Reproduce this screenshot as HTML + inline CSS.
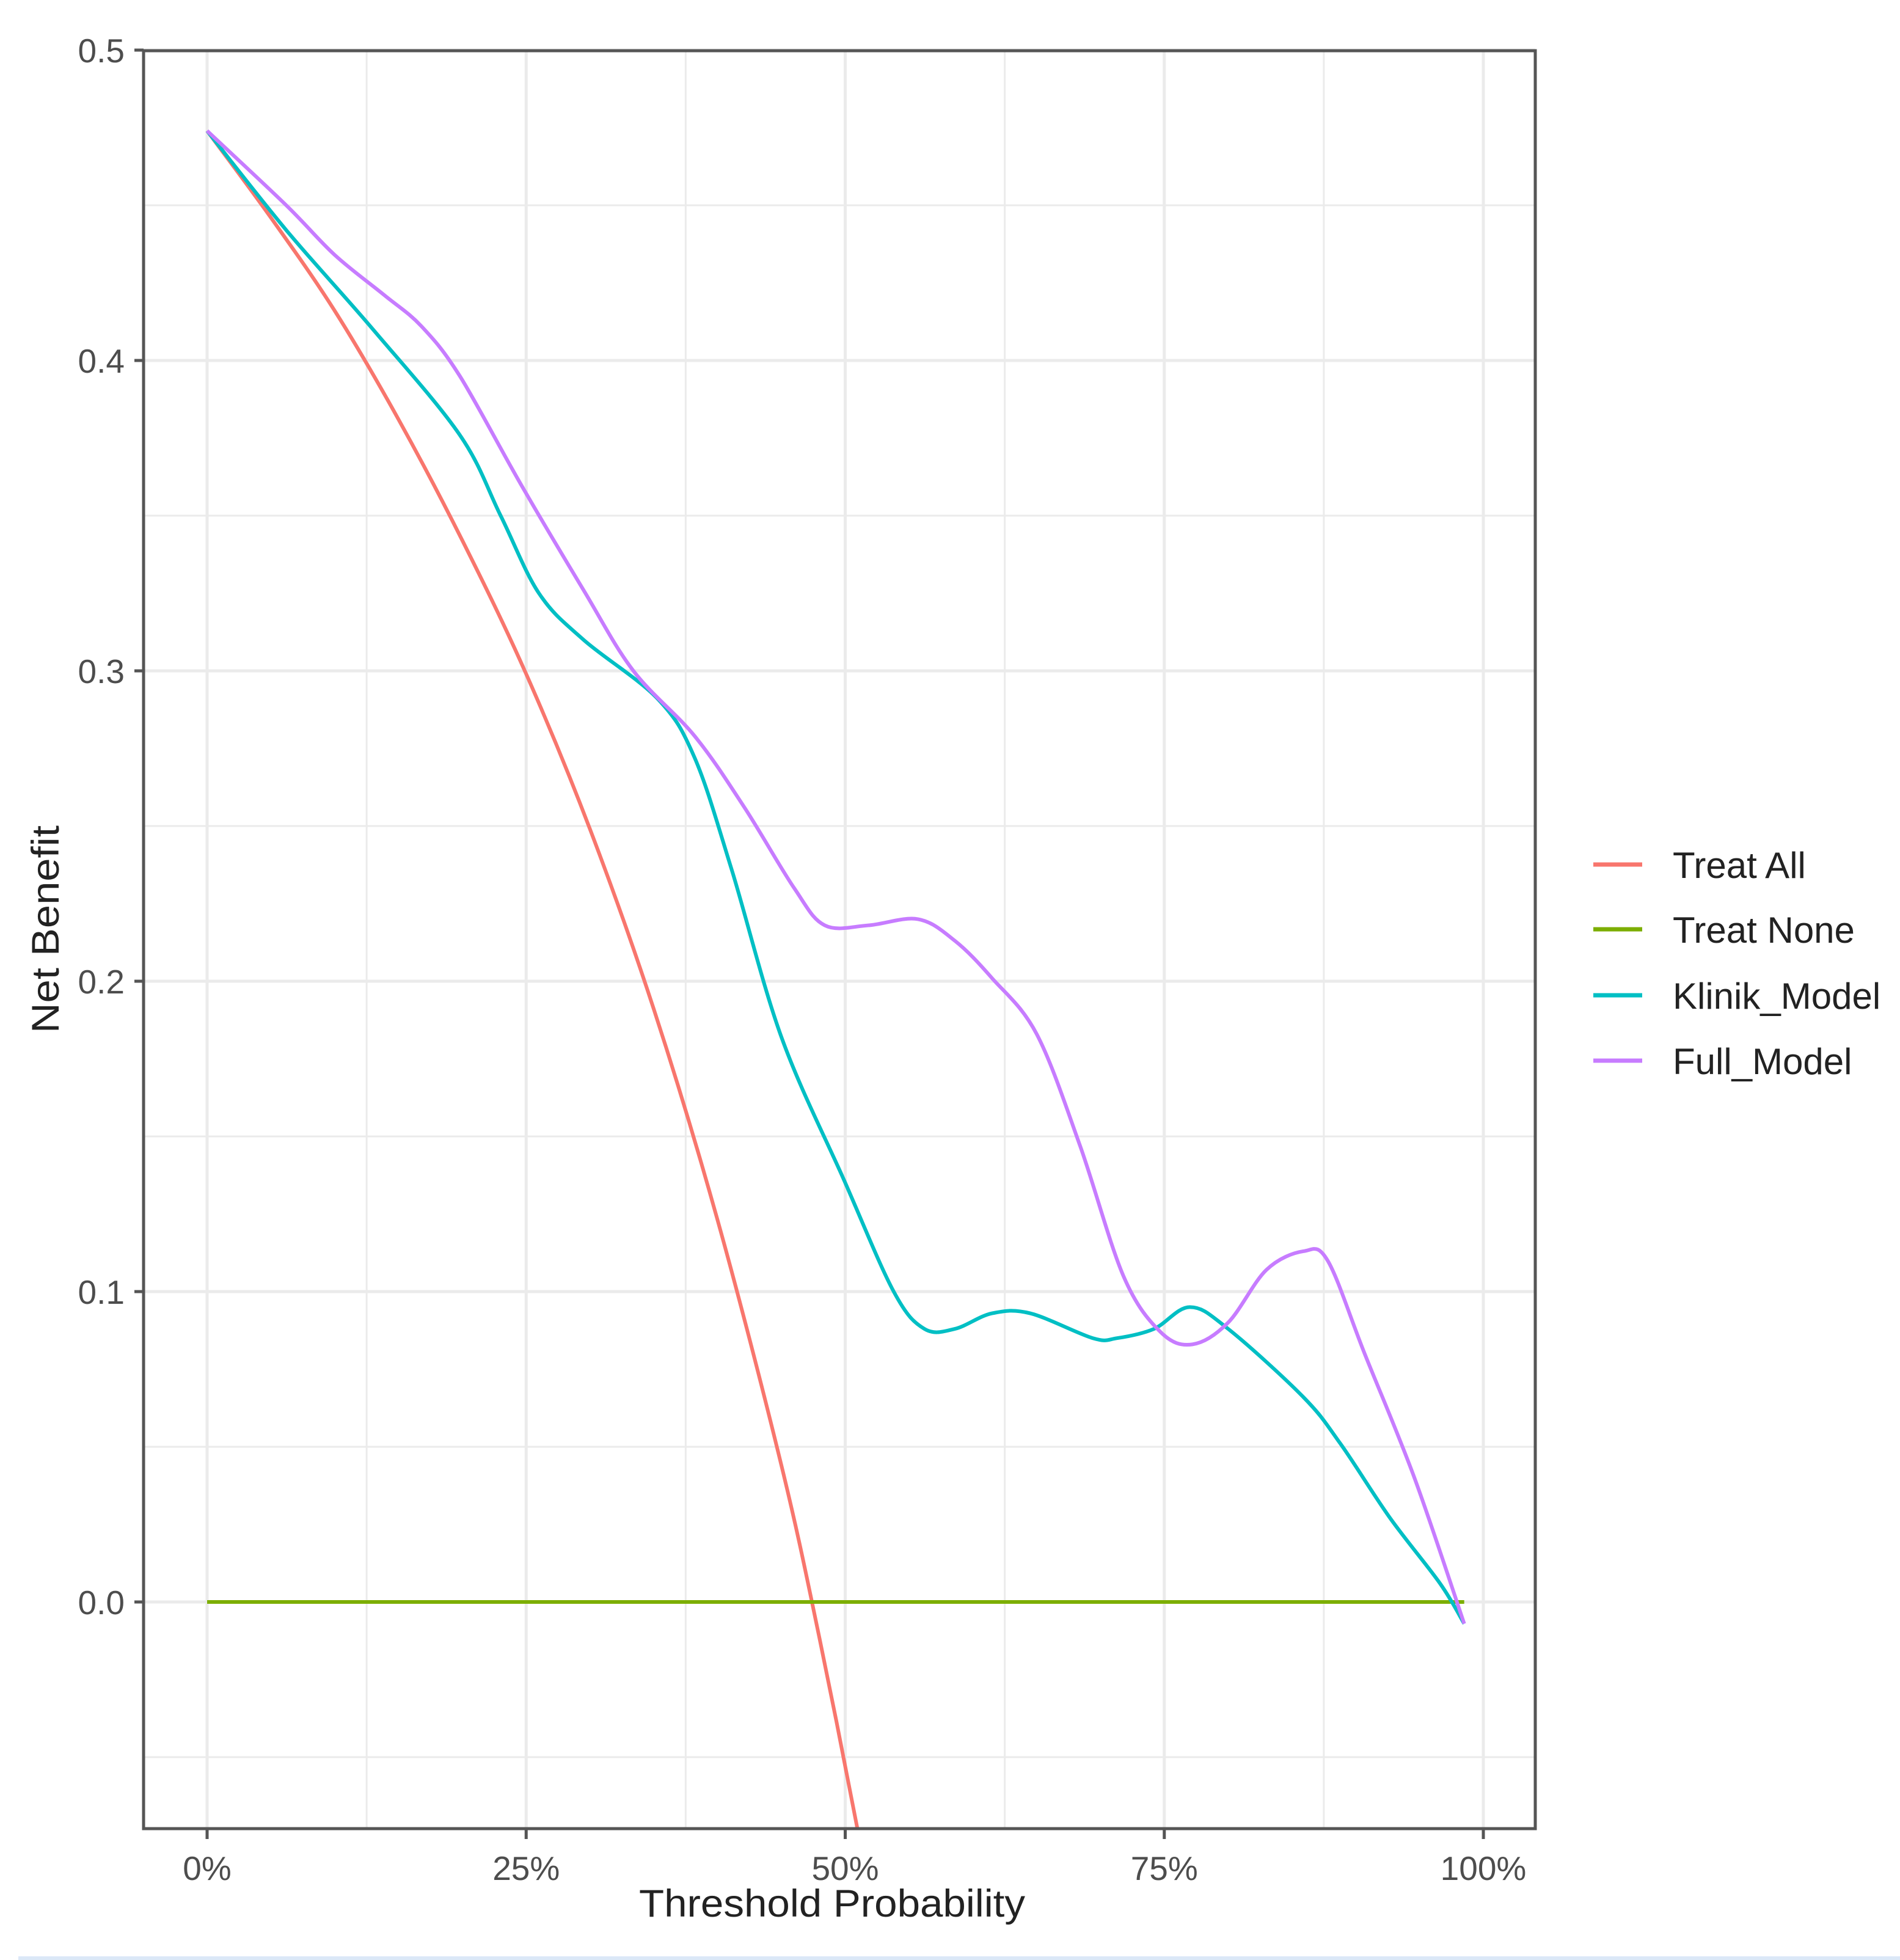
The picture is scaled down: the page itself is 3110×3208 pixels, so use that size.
<!DOCTYPE html>
<html><head><meta charset="utf-8"><style>
html,body{margin:0;padding:0;background:#fff;}
svg{display:block;}
text{font-family:"Liberation Sans",sans-serif;}
</style></head><body>
<svg id="chart" width="3110" height="3208" viewBox="0 0 3110 3208" xmlns="http://www.w3.org/2000/svg">
<defs><clipPath id="clip"><rect x="235" y="83" width="2278" height="2910"/></clipPath></defs>
<rect width="3110" height="3208" fill="#fff"/>
<g id="grid"></g>
<g id="series" clip-path="url(#clip)"></g>
<rect x="235" y="83" width="2278" height="2910" fill="none" stroke="#555" stroke-width="5"/>
<g id="axes"></g>
<text x="1362" y="3137" font-size="63" text-anchor="middle" fill="#222" textLength="632" lengthAdjust="spacingAndGlyphs">Threshold Probability</text>
<text transform="translate(96,1521) rotate(-90)" font-size="63" text-anchor="middle" fill="#222" textLength="340" lengthAdjust="spacingAndGlyphs">Net Benefit</text>
<g id="legend"></g>
<rect x="30" y="3202" width="3080" height="6" fill="#dbe8f7"/>
</svg>
<script>
const xTicks=[0,0.25,0.5,0.75,1];
const xTickLabels=["0%","25%","50%","75%","100%"];
const yTicks=[0,0.1,0.2,0.3,0.4,0.5];
const yTickLabels=["0.0","0.1","0.2","0.3","0.4","0.5"];
const seriesNames=["Treat All","Treat None","Klinik_Model","Full_Model"];
const seriesColors=["#F8766D","#7CAE00","#00BFC4","#C77CFF"];
const treatAllX=[0,0.05,0.10,0.15,0.20,0.25,0.30,0.35,0.40,0.45,0.48,0.51,0.53];
const treatAllY=[0.474,0.446,0.416,0.381,0.342,0.299,0.249,0.191,0.123,0.044,-0.012,-0.074,-0.119];
const treatNoneX=[0,0.985];
const treatNoneY=[0,0];
const klinikX=[0,0.062,0.13,0.198,0.23,0.26,0.295,0.353,0.382,0.411,0.45,0.499,0.538,0.562,0.586,0.615,0.645,0.694,0.713,0.742,0.77,0.80,0.859,0.888,0.927,0.966,0.985];
const klinikY=[0.474,0.442,0.410,0.376,0.350,0.325,0.310,0.291,0.272,0.236,0.182,0.136,0.100,0.088,0.088,0.093,0.093,0.085,0.085,0.088,0.095,0.088,0.066,0.051,0.027,0.006,-0.007];
const fullX=[0,0.062,0.10,0.139,0.168,0.198,0.246,0.295,0.334,0.382,0.421,0.46,0.484,0.518,0.557,0.586,0.615,0.65,0.684,0.718,0.747,0.772,0.80,0.83,0.859,0.878,0.907,0.946,0.985];
const fullY=[0.474,0.450,0.434,0.421,0.411,0.395,0.360,0.326,0.300,0.279,0.256,0.230,0.218,0.218,0.220,0.213,0.201,0.183,0.147,0.105,0.087,0.083,0.090,0.107,0.113,0.110,0.080,0.040,-0.007];

const NS="http://www.w3.org/2000/svg";
const X0=339,X1=2428,Y0=2622,YPER=508;
function sx(v){return X0+(X1-X0)*v;}
function sy(v){return Y0-v*YPER*10;}
function mk(tag,attrs,parent){const e=document.createElementNS(NS,tag);for(const k in attrs)e.setAttribute(k,attrs[k]);parent.appendChild(e);return e;}
const grid=document.getElementById('grid'),axes=document.getElementById('axes'),series=document.getElementById('series'),legend=document.getElementById('legend');
for(let i=0;i<=8;i++){const v=i*0.125;const major=i%2===0;
 const l=mk('line',{x1:sx(v),x2:sx(v),y1:83,y2:2993,stroke:'#ebebeb','stroke-width':major?5:3},grid);
 
 }
for(let i=-1;i<=10;i++){const v=i*0.05;const major=i%2===0;
 const l=mk('line',{x1:235,x2:2513,y1:sy(v),y2:sy(v),stroke:'#ebebeb','stroke-width':major?5:3},grid);
 
 }
xTicks.forEach((v,i)=>{
 const t=mk('line',{x1:sx(v),x2:sx(v),y1:2993,y2:3010,stroke:'#555','stroke-width':5},axes);
 
 
 const tx=mk('text',{x:sx(v),y:3077,'font-size':55,'text-anchor':'middle',fill:'#4d4d4d'},axes);
 
 
 tx.textContent=xTickLabels[i];});
yTicks.forEach((v,i)=>{
 const t=mk('line',{x1:220,x2:235,y1:sy(v),y2:sy(v),stroke:'#555','stroke-width':5},axes);
 
 
 const tx=mk('text',{x:204,y:sy(v)+20,'font-size':55,'text-anchor':'end',fill:'#4d4d4d'},axes);
 
 
 tx.textContent=yTickLabels[i];});
function pathD(xs,ys){const p=xs.map((x,i)=>[sx(x),sy(ys[i])]);let d='M'+p[0][0]+','+p[0][1];
 for(let i=0;i<p.length-1;i++){const a=p[i-1]||p[i],b=p[i],c=p[i+1],e=p[i+2]||c;
  const c1=[b[0]+(c[0]-a[0])/6,b[1]+(c[1]-a[1])/6],c2=[c[0]-(e[0]-b[0])/6,c[1]-(e[1]-b[1])/6];
  d+=' C'+c1[0]+','+c1[1]+' '+c2[0]+','+c2[1]+' '+c[0]+','+c[1];}
 return d;}
const data=[[treatAllX,treatAllY],[treatNoneX,treatNoneY],[klinikX,klinikY],[fullX,fullY]];
const names=['treat-all-line','treat-none-line','klinik-model-line','full-model-line'];
data.forEach((s,i)=>{
 const p=mk('path',{d:pathD(s[0],s[1]),fill:'none',stroke:seriesColors[i],'stroke-width':6,'stroke-linejoin':'round'},series);
 
 });
const legY=[1423,1529,1637,1744];
seriesNames.forEach((n,i)=>{
 const g=mk('g',{},legend);
 
 
 const k=mk('line',{x1:2608,x2:2688,y1:legY[i]-8,y2:legY[i]-8,stroke:seriesColors[i],'stroke-width':7},g);
 
 
 const t=mk('text',{x:2738,y:legY[i]+14,'font-size':60,fill:'#222'},g);
 
 
 t.textContent=n;});
</script>
</body></html>
